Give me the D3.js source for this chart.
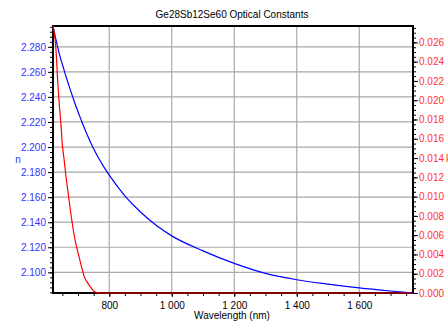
<!DOCTYPE html>
<html>
<head>
<meta charset="utf-8">
<script src="https://cdn.jsdelivr.net/npm/d3@7"></script>
<style>
  body { margin: 0; background: #fff; }
  text { font-family: "Liberation Sans", Arial, sans-serif; }
</style>
</head>
<body>
<div id="chart"></div>
<script>
// data
var wavelength = [620, 625, 630, 635, 640, 645, 650, 655, 660, 670, 680, 690, 700, 710, 720, 730, 740, 750, 760, 770, 780, 800, 850, 900, 950, 1000, 1100, 1200, 1300, 1400, 1500, 1600, 1700, 1770];
var nValues = [2.2966, 2.2908, 2.2852, 2.2798, 2.2746, 2.2702, 2.2660, 2.2618, 2.2576, 2.2498, 2.2422, 2.2350, 2.2282, 2.2217, 2.2154, 2.2095, 2.2038, 2.1986, 2.1938, 2.1894, 2.1852, 2.1776, 2.1611, 2.1481, 2.1376, 2.1291, 2.1171, 2.1071, 2.0991, 2.0941, 2.0906, 2.0876, 2.0851, 2.0835];
var kValues = [0.0277, 0.0268, 0.0250, 0.0220, 0.0196, 0.0177, 0.0153, 0.0140, 0.0125, 0.0100, 0.0076, 0.0056, 0.0042, 0.0029, 0.0017, 0.0011, 0.0006, 0.0002, 0.00005, 0, 0, 0, 0, 0, 0, 0, 0, 0, 0, 0, 0, 0, 0, 0];
var xTicks = [800, 1000, 1200, 1400, 1600];
var nTicks = [2.100, 2.120, 2.140, 2.160, 2.180, 2.200, 2.220, 2.240, 2.260, 2.280];
var kTicks = [0, 0.002, 0.004, 0.006, 0.008, 0.010, 0.012, 0.014, 0.016, 0.018, 0.020, 0.022, 0.024, 0.026];

var svgWidth = 448;
var svgHeight = 322;
var margin = { top: 26, right: 35, bottom: 29, left: 53 };
var width = svgWidth - margin.left - margin.right;
var height = svgHeight - margin.top - margin.bottom;

var data = wavelength.map((w, i) => ({ w: w, n: nValues[i], k: kValues[i] }));

var svg = d3.select("#chart").append("svg")
  .attr("width", svgWidth)
  .attr("height", svgHeight);

var chartGroup = svg.append("g")
  .attr("transform", `translate(${margin.left}, ${margin.top})`);

var xScale = d3.scaleLinear().domain([620, 1772]).range([0, width]);
var nScale = d3.scaleLinear().domain(d3.extent(nValues)).range([height, 0]);
var kScale = d3.scaleLinear().domain(d3.extent(kValues)).range([height, 0]);

var locale = d3.formatLocale({ decimal: ".", thousands: " ", grouping: [3], currency: ["", ""] });
var fmtX = locale.format(",d");
var fmt3 = d3.format(".3f");

// gridlines
chartGroup.append("g").selectAll("line")
  .data(xTicks).enter().append("line")
  .attr("x1", d => xScale(d)).attr("x2", d => xScale(d))
  .attr("y1", 0).attr("y2", height)
  .attr("stroke", "#a8a8a8").attr("stroke-width", 1.2);

chartGroup.append("g").selectAll("line")
  .data(nTicks).enter().append("line")
  .attr("x1", 0).attr("x2", width)
  .attr("y1", d => nScale(d)).attr("y2", d => nScale(d))
  .attr("stroke", "#a8a8a8").attr("stroke-width", 1.2);

// minor ticks
var xMinor = d3.range(650, 1772, 50);
var nMinor = d3.range(2.084, 2.2966, 0.004);
var kMinor = d3.range(0, 0.0277, 0.0005);

chartGroup.append("g").attr("transform", `translate(0, ${height})`)
  .call(d3.axisBottom(xScale).tickValues(xMinor).tickSize(3).tickFormat(""));
chartGroup.append("g")
  .call(d3.axisLeft(nScale).tickValues(nMinor).tickSize(3).tickFormat(""));
chartGroup.append("g").attr("transform", `translate(${width}, 0)`)
  .call(d3.axisRight(kScale).tickValues(kMinor).tickSize(3).tickFormat(""));

// major ticks with labels
var xAxis = chartGroup.append("g")
  .attr("transform", `translate(0, ${height})`)
  .call(d3.axisBottom(xScale).tickValues(xTicks).tickSize(4).tickPadding(5).tickFormat(fmtX));
xAxis.selectAll("text").attr("fill", "#000");

var leftAxis = chartGroup.append("g")
  .call(d3.axisLeft(nScale).tickValues(nTicks).tickSize(5).tickPadding(2).tickFormat(fmt3));
leftAxis.selectAll("text").attr("fill", "#3333ff");

var rightAxis = chartGroup.append("g")
  .attr("transform", `translate(${width}, 0)`)
  .call(d3.axisRight(kScale).tickValues(kTicks).tickSize(5).tickPadding(1).tickFormat(fmt3));
rightAxis.selectAll("text").attr("fill", "#ff3333");

svg.selectAll(".tick text").attr("font-size", "10px").attr("font-family", "Liberation Sans, Arial, sans-serif");
svg.selectAll(".domain").remove();

// frame
chartGroup.append("rect")
  .attr("width", width).attr("height", height)
  .attr("fill", "none").attr("stroke", "#000").attr("stroke-width", 2);

// curves
var nLine = d3.line().x(d => xScale(d.w)).y(d => nScale(d.n)).curve(d3.curveMonotoneX);
var kLine = d3.line().x(d => xScale(d.w)).y(d => kScale(d.k)).curve(d3.curveMonotoneX);

chartGroup.append("path").datum(data)
  .attr("d", nLine).attr("fill", "none").attr("stroke", "#0000ff").attr("stroke-width", 1.2);
chartGroup.append("path").datum(data)
  .attr("d", kLine).attr("fill", "none").attr("stroke", "#ff0000").attr("stroke-width", 1.2);

// titles
svg.append("text")
  .attr("x", 232).attr("y", 18)
  .attr("text-anchor", "middle")
  .attr("font-size", "10px")
  .text("Ge28Sb12Se60 Optical Constants");

svg.append("text")
  .attr("x", 232).attr("y", 319)
  .attr("text-anchor", "middle")
  .attr("font-size", "10px")
  .text("Wavelength (nm)");

svg.append("text")
  .attr("x", 18).attr("y", 163)
  .attr("text-anchor", "middle")
  .attr("font-size", "10px")
  .attr("fill", "#3333ff")
  .text("n");

svg.append("text")
  .attr("x", 446).attr("y", 162)
  .attr("font-size", "10px")
  .attr("fill", "#ff3333")
  .text("k");
</script>
</body>
</html>
